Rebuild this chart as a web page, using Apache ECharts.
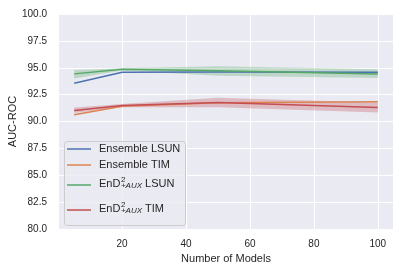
<!DOCTYPE html>
<html><head><meta charset="utf-8">
<script src="https://cdn.jsdelivr.net/npm/echarts@6/dist/echarts.min.js"></script>
<style>html,body{margin:0;padding:0;background:#fff}#c{width:406px;height:271px}</style>
</head><body><div id="c"></div><script>
// ---- data ----
const models = [5, 20, 50, 100];
const ensembleLSUN = [93.55, 94.58, 94.6, 94.58];
const ensembleTIM = [90.62, 91.42, 91.75, 91.83];
const endLSUN = [94.43, 94.85, 94.72, 94.43];
const endLSUNLow = [94.0, 94.75, 94.25, 94.05];
const endLSUNHigh = [94.8, 94.95, 95.15, 94.85];
const endTIM = [91.02, 91.48, 91.77, 91.3];
const endTIMLow = [90.78, 91.33, 91.32, 90.83];
const endTIMHigh = [91.3, 91.62, 92.22, 91.77];
const xTicks = [20, 40, 60, 80, 100];

const FONT = '"Liberation Sans", Arial, sans-serif';
const TXT = '#262626';
const C = {blue:'#4c72b0', orange:'#dd8452', green:'#55a868', red:'#c44e52'};

function pairs(ys){ return models.map((x,i)=>[x, ys[i]]); }
function lineSeries(name, ys, color){
  return {name, type:'line', data:pairs(ys), symbol:'none', color,
    lineStyle:{color, width:1.5}, z:3};
}
function bandSeries(lo, hi, color){
  return {type:'custom', silent:true, z:3,
    data: models.map((x,i)=>[x, lo[i], hi[i]]),
    encode:{x:0, y:[1,2]},
    renderItem:function(params, api){
      if (params.dataIndex !== 0) return {type:'group', children:[]};
      const pts = [];
      for (let i=0;i<models.length;i++) pts.push(api.coord([models[i], hi[i]]));
      for (let i=models.length-1;i>=0;i--) pts.push(api.coord([models[i], lo[i]]));
      return {type:'polygon', shape:{points:pts}, style:{fill:color, opacity:0.3}};
    }};
}

// legend built as graphic (needs super/subscript)
const ctx = document.createElement('canvas').getContext('2d');
function tw(t, size, style){ ctx.font = (style||'') + ' ' + size + 'px ' + FONT; return ctx.measureText(t).width; }
const legendItems = [
  {color:C.blue, y:149, base:'Ensemble LSUN'},
  {color:C.orange, y:165, base:'Ensemble TIM'},
  {color:C.green, y:185, base:'EnD', sup:'2', sub:'+AUX', rest:' LSUN'},
  {color:C.red, y:210, base:'EnD', sup:'2', sub:'+AUX', rest:' TIM'}
];
const graphics = [{type:'rect', z:10, shape:{x:64.5, y:141.5, width:121, height:84, r:3},
  style:{fill:'rgba(234,234,242,0.8)', stroke:'#cccccc', lineWidth:1}}];
legendItems.forEach(it=>{
  graphics.push({type:'line', z:11, shape:{x1:67, y1:it.y, x2:91, y2:it.y}, style:{stroke:it.color, lineWidth:1.5}});
  const tx = 99;
  const my = it.sup ? it.y - 1.5 : it.y;
  graphics.push({type:'text', z:11, style:{text:it.base, x:tx, y:my, font:'11px '+FONT, fill:TXT, verticalAlign:'middle'}});
  if (it.sup){
    const x2 = tx + tw(it.base, 11) + 0.5;
    graphics.push({type:'text', z:11, style:{text:it.sup, x:x2, y:it.y-5.5, font:'8px '+FONT, fill:TXT, verticalAlign:'middle'}});
    graphics.push({type:'text', z:11, style:{text:it.sub, x:x2, y:it.y+0.8, font:'italic 8px '+FONT, fill:TXT, verticalAlign:'middle'}});
    const x3 = x2 + Math.max(tw(it.sup,8), tw(it.sub,8,'italic'));
    graphics.push({type:'text', z:11, style:{text:it.rest, x:x3, y:my, font:'11px '+FONT, fill:TXT, verticalAlign:'middle'}});
  }
});

const chart = echarts.init(document.getElementById('c'), null, {renderer:'canvas'});
chart.setOption({
  animation:false,
  backgroundColor:'#ffffff',
  grid:{left:59, right:13, top:14, bottom:42, show:true, backgroundColor:'#eaeaf2', borderWidth:0, containLabel:false, outerBoundsMode:'none'},
  xAxis:{type:'value', min:0.25, max:104.75,
    name:'Number of Models', nameLocation:'middle', nameGap:24, nameMoveOverlap:false,
    nameTextStyle:{fontFamily:FONT, fontSize:11, color:TXT},
    axisLine:{show:false}, axisTick:{show:false, customValues:xTicks},
    axisLabel:{customValues:xTicks, margin:10, fontFamily:FONT, fontSize:10, color:TXT},
    splitLine:{show:true, lineStyle:{color:'#ffffff', width:1}}},
  yAxis:{type:'value', min:80, max:100, interval:2.5,
    name:'AUC-ROC', nameLocation:'middle', nameGap:41, nameRotate:90, nameMoveOverlap:false,
    nameTextStyle:{fontFamily:FONT, fontSize:11, color:TXT},
    axisLine:{show:false}, axisTick:{show:false},
    axisLabel:{margin:12, fontFamily:FONT, fontSize:10, color:TXT, formatter:v=>v.toFixed(1)},
    splitLine:{show:true, lineStyle:{color:'#ffffff', width:1}}},
  series:[
    lineSeries('Ensemble LSUN', ensembleLSUN, C.blue),
    lineSeries('Ensemble TIM', ensembleTIM, C.orange),
    bandSeries(endLSUNLow, endLSUNHigh, C.green),
    lineSeries('EnD LSUN', endLSUN, C.green),
    bandSeries(endTIMLow, endTIMHigh, C.red),
    lineSeries('EnD TIM', endTIM, C.red)
  ],
  graphic:graphics
});
</script></body></html>
